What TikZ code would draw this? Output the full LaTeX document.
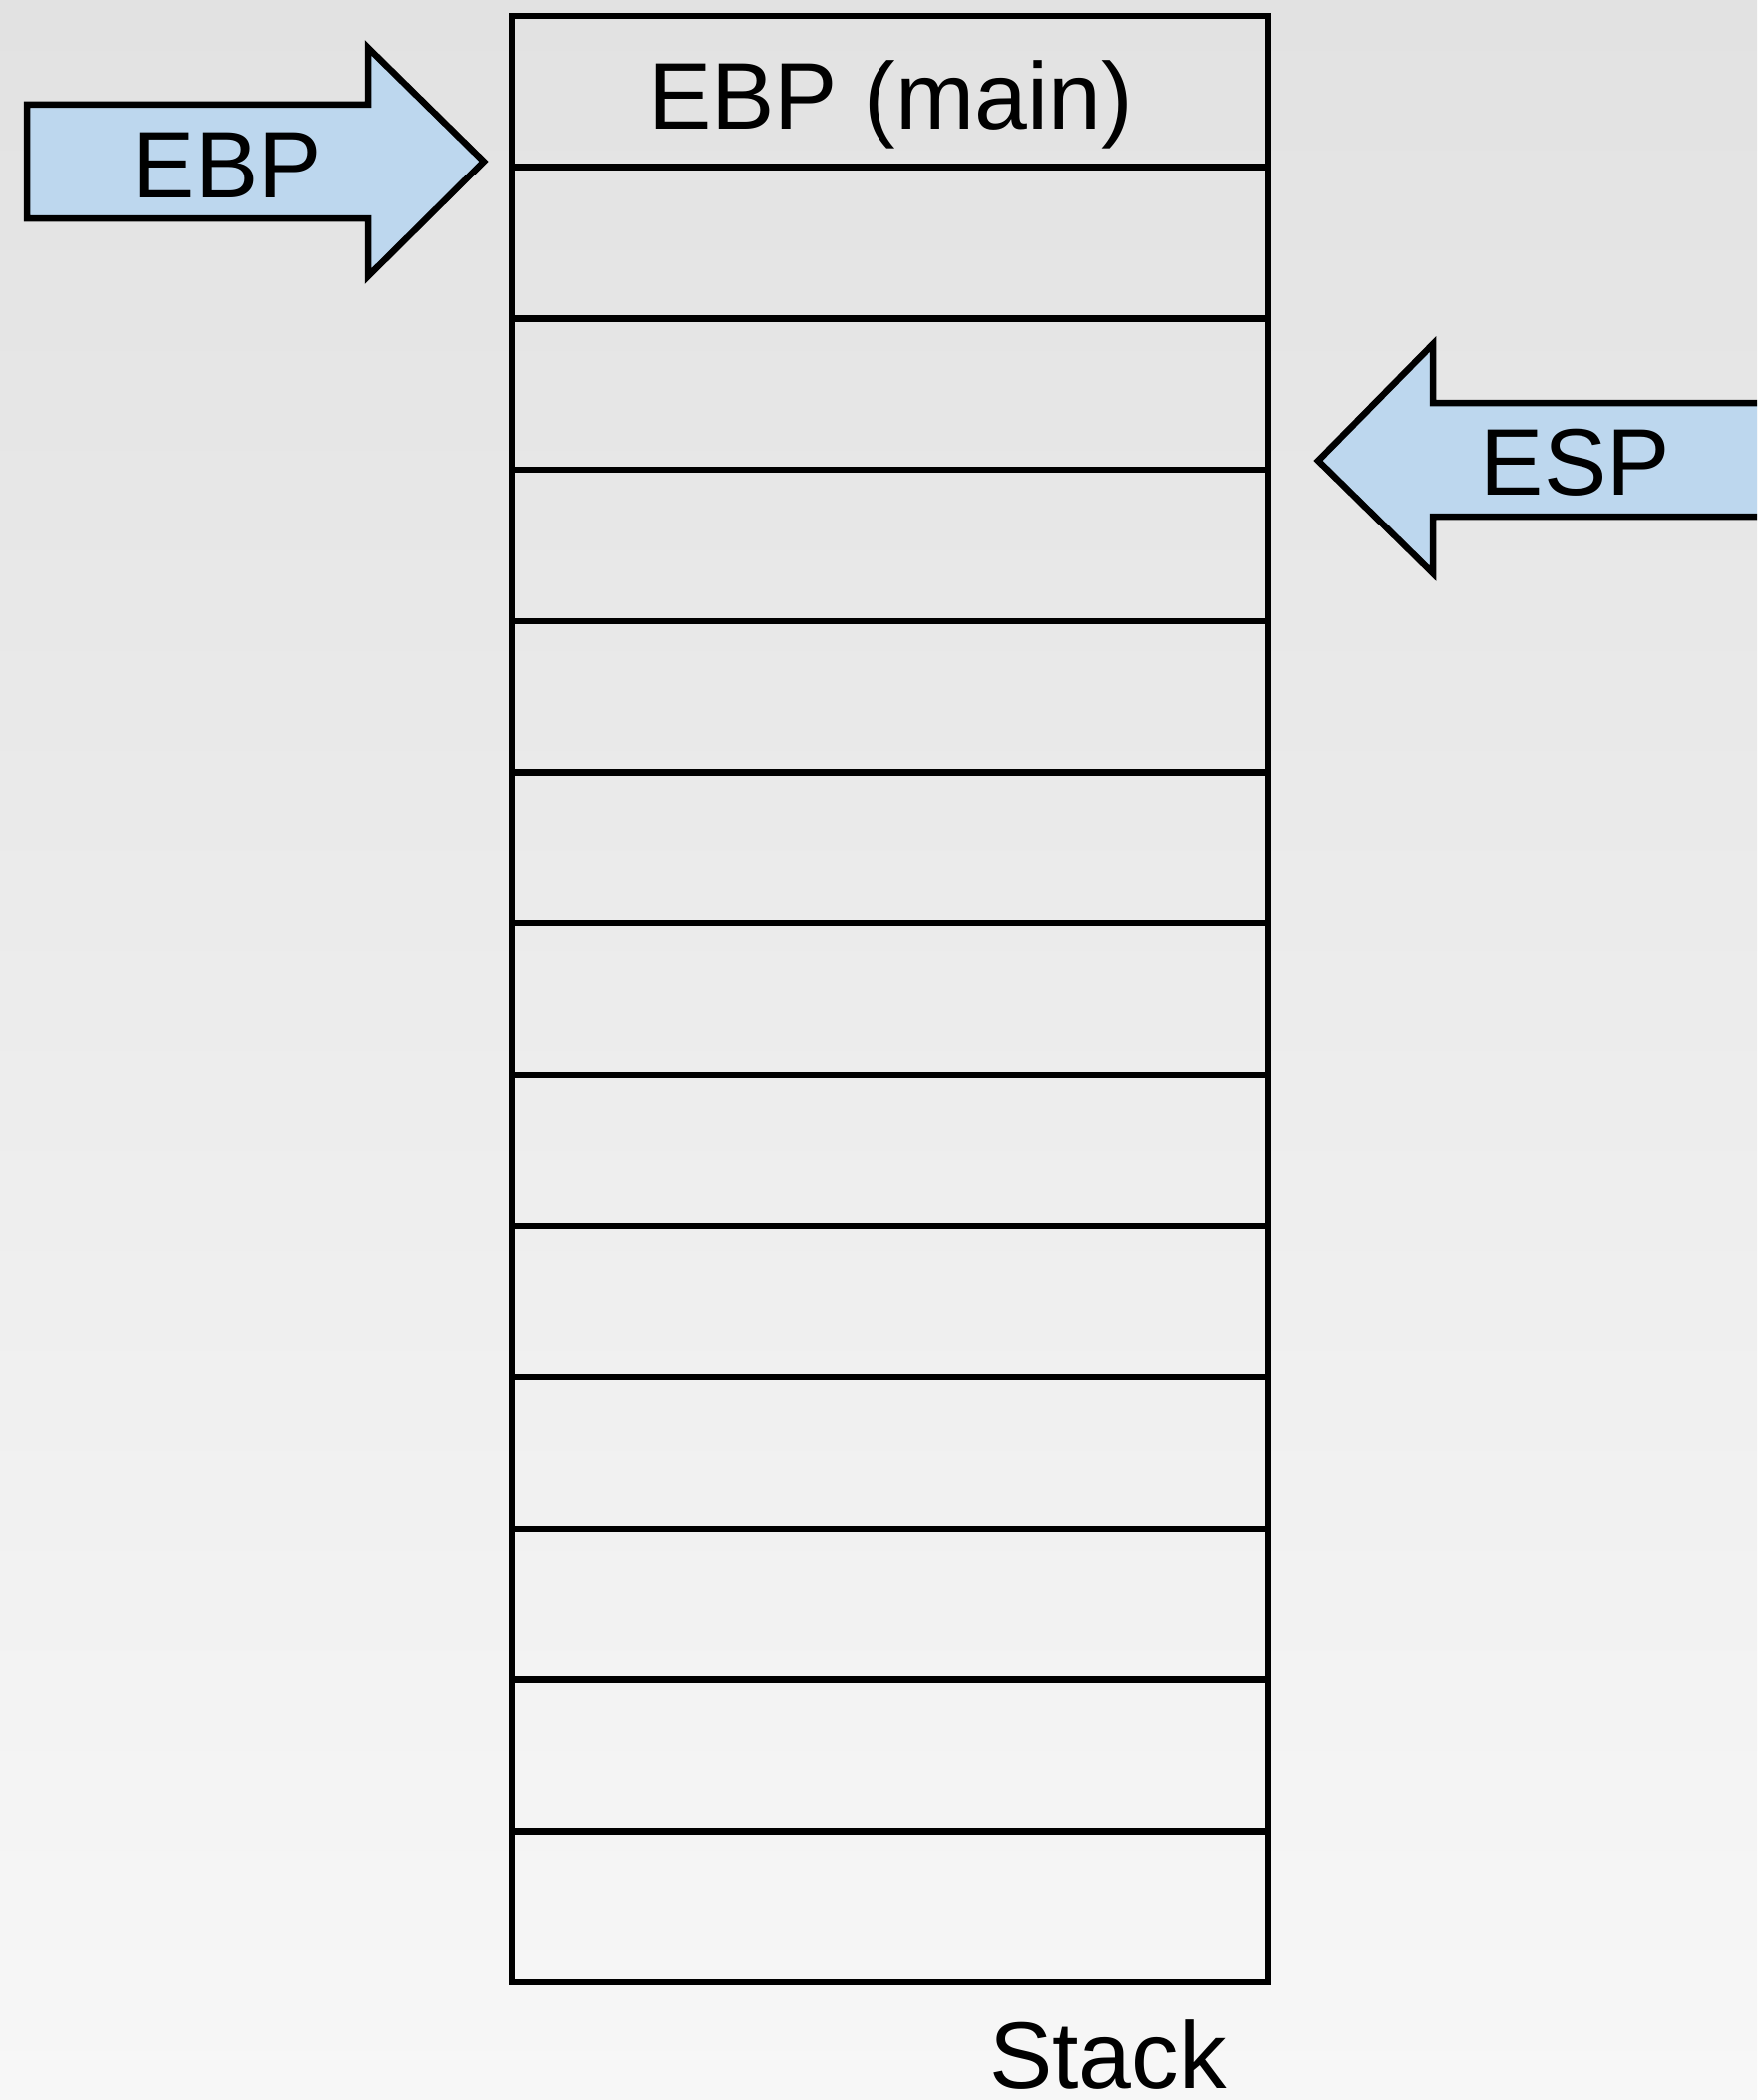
\documentclass[tikz,border=0pt]{standalone}
\usepackage{fontspec}
\setmainfont{Liberation Sans}
\definecolor{bgtop}{RGB}{226,226,226}
\definecolor{bgbot}{RGB}{247,247,247}
\definecolor{arrowblue}{RGB}{189,215,238}
\tikzset{
  regarrow/.style={draw=black, fill=arrowblue, line width=6.5pt, line join=miter},
  cellbox/.style={draw=black, line width=6.5pt, minimum width=759pt, minimum height=151.7pt, inner sep=0pt, outer sep=0pt, anchor=north west},
  bigtext/.style={font=\fontsize{95}{110}\selectfont, anchor=base, inner sep=0pt}
}
\begin{document}
\begin{tikzpicture}[x=1pt,y=-1pt]
\useasboundingbox (0,0) rectangle (1762,2106);
\clip (0,0) rectangle (1762,2106);
\shade[top color=bgtop, bottom color=bgbot] (0,0) rectangle (1762,2106);
% stack cells
\foreach \i in {1,...,13}{
  \node[cellbox] (r\i) at (513,{16+151.69*(\i-1)}) {};
}
% EBP arrow
\draw[regarrow] (27,105) -- (369,105) -- (369,48) -- (485,162) -- (369,277) -- (369,219) -- (27,219) -- cycle;
% ESP arrow
\draw[regarrow] (1790,404) -- (1437,404) -- (1437,345) -- (1322,462) -- (1437,575) -- (1437,518) -- (1790,518) -- cycle;
% texts
\node[bigtext] (ebpmain) at (893,130) {EBP (main)};
\node[bigtext] (ebp) at (228,198) {EBP};
\node[bigtext] (esp) at (1580,496) {ESP};
\node[bigtext] (stack) at (1111,2094) {Stack};
\end{tikzpicture}
\end{document}
